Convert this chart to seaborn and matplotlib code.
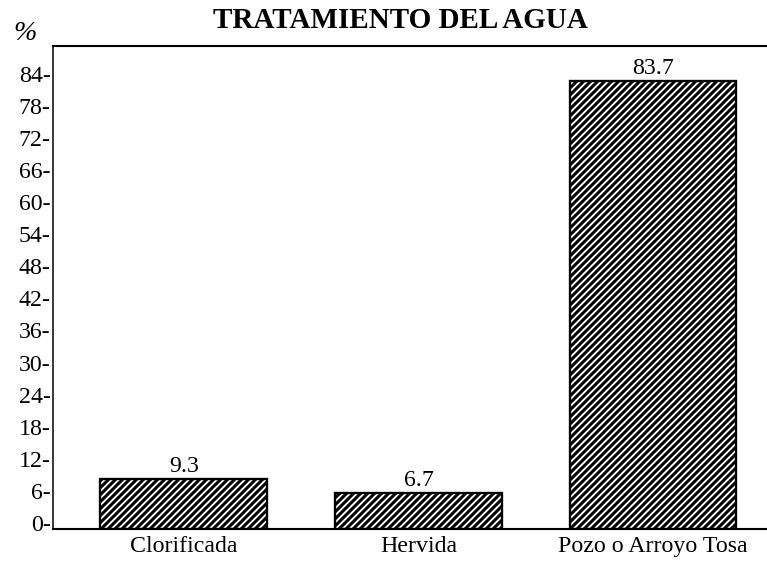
import matplotlib
matplotlib.use("Agg")
import matplotlib.pyplot as plt
import matplotlib.transforms as mtransforms
import seaborn as sns
import pandas as pd

categories = ["Clorificada", "Hervida", "Pozo o Arroyo Tosa"]
values = [9.3, 6.7, 83.7]
value_labels = ["9.3", "6.7", "83.7"]
yticks = [0, 6, 12, 18, 24, 30, 36, 42, 48, 54, 60, 66, 72, 78, 84]
title = "TRATAMIENTO DEL AGUA"

sns.set_theme(style="white")
plt.rcParams['font.family'] = ['Liberation Serif', 'DejaVu Serif']
plt.rcParams['hatch.linewidth'] = 2.6

DPI = 84
fig = plt.figure(figsize=(767 / DPI, 566 / DPI), dpi=DPI, facecolor="white")
ax = fig.add_axes([53 / 767, 1 - 529 / 566, 1 - 53 / 767, (529 - 46) / 566])

df = pd.DataFrame({"cat": categories, "val": values})
sns.barplot(data=df, x="cat", y="val", color="white", edgecolor="black",
            linewidth=2.0, width=0.71, saturation=1, ax=ax)
for p in ax.patches:
    p.set_hatch("////")
    p.set_facecolor("white")
    p.set_edgecolor("black")

ax.set_xlim(-0.557, 2.485)
ax.set_ylim(0, 90.3)

FS = 20.5
ax.set_yticks(yticks)
ax.set_yticklabels([f"{v}-" for v in yticks])
ax.tick_params(axis="y", length=0, pad=2, labelsize=FS, colors="black")
ax.tick_params(axis="x", length=0, pad=6, labelsize=FS, colors="black")
offset = mtransforms.ScaledTranslation(0, 6 / DPI, fig.dpi_scale_trans)
for lab in ax.get_yticklabels():
    lab.set_transform(lab.get_transform() + offset)

ax.set_xlabel("")
ax.set_ylabel("")

for side in ["left", "top", "bottom"]:
    ax.spines[side].set_visible(True)
    ax.spines[side].set_color("black")
ax.spines["left"].set_linewidth(1.3)
ax.spines["top"].set_linewidth(1.8)
ax.spines["bottom"].set_linewidth(1.8)
ax.spines["right"].set_visible(False)

ax.bar_label(ax.containers[0], labels=value_labels, padding=2,
             fontsize=FS, color="black")

fig.text(400 / 767, 1 - 20 / 566, title, ha="center", va="center",
         fontsize=25, fontweight="bold", color="black")
fig.text(25 / 767, 1 - 33 / 566, "%", ha="center", va="center",
         fontsize=24, fontstyle="italic", color="black")

fig.savefig("out.png", dpi=DPI, facecolor="white")
